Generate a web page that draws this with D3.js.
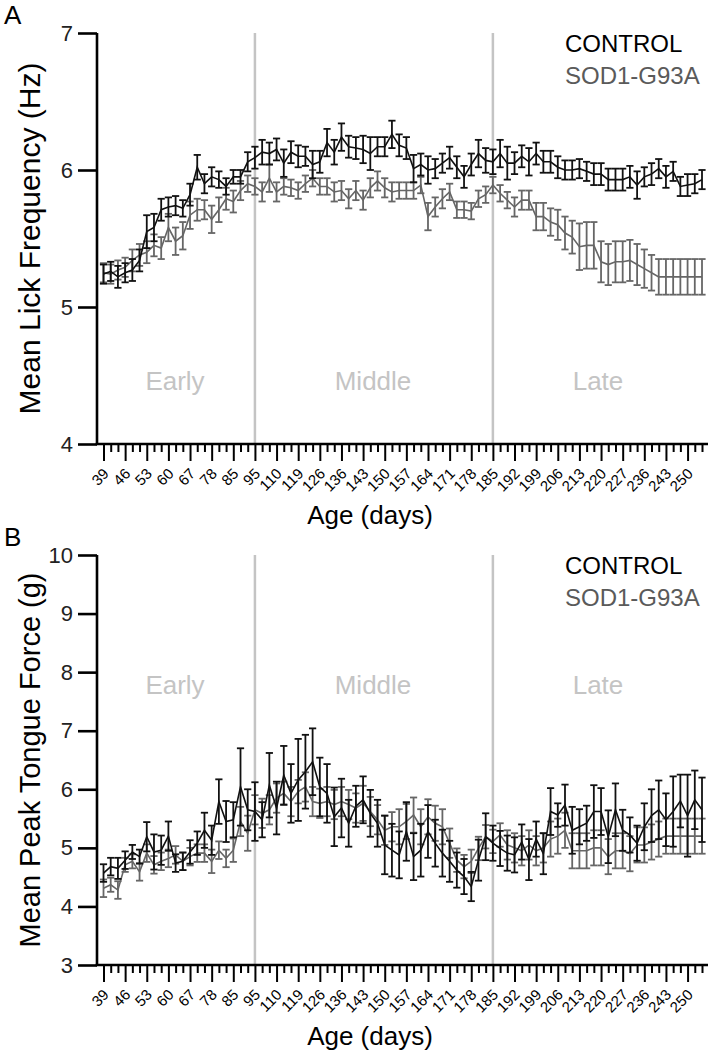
<!DOCTYPE html>
<html><head><meta charset="utf-8">
<script src="https://cdn.jsdelivr.net/npm/d3@7"></script>
<style>
body{margin:0;background:#fff;}
svg text{font-family:"Liberation Sans",Arial,sans-serif;}
</style></head>
<body><svg id="c" width="713" height="1050"></svg>
<script>
const ageLabels = ["39","46","53","60","67","78","85","95","110","119","126","136","143","150","157","164","171","178","185","192","199","206","213","220","227","236","243","250"];
const phaseLabels = ["Early","Middle","Late"];
const phaseBoundaryIdx = [21, 54];
const seriesNames = ["CONTROL","SOD1-G93A"];

const ctrlA = [5.24,5.26,5.22,5.25,5.27,5.34,5.55,5.58,5.71,5.73,5.74,5.72,5.82,6.02,5.90,5.95,5.93,5.88,5.95,5.95,6.06,6.09,6.13,6.12,6.15,6.05,6.13,6.10,6.10,6.04,6.06,6.20,6.13,6.24,6.17,6.16,6.15,6.12,6.17,6.17,6.26,6.18,6.16,
6.01,6.04,6.00,6.01,6.05,6.09,6.02,5.95,6.04,6.12,6.07,6.06,6.12,6.05,6.05,6.10,6.06,6.12,6.06,6.06,6.02,6.00,6.00,6.01,5.99,5.97,5.97,5.93,5.93,5.93,5.95,5.89,5.95,5.97,6.01,5.95,5.99,5.88,5.89,5.90,5.93];
const ctrlAErr = [.07,.07,.08,.07,.08,.08,.12,.1,.08,.07, .07,.06,.08,.09,.07,.07,.06,.06,.05,.05, .07,.08,.09,.08,.08,.1,.08,.08,.07,.1, .08,.1,.09,.1,.08,.08,.1,.12,.07,.07, .1,.08,.08,.1,.08,.1,.07,.07,.08,.08, .08,.08,.1,.09,.09,.1,.12,.08,.08,.1, .08,.08,.08,.08,.07,.07,.07,.07,.08,.08, .08,.08,.08,.08,.1,.07,.08,.07,.08,.07, .07,.08,.07,.07];
const sodA = [5.25,5.24,5.27,5.29,5.34,5.38,5.40,5.45,5.43,5.58,5.48,5.52,5.67,5.71,5.71,5.64,5.71,5.79,5.77,5.85,5.90,5.88,5.84,5.94,5.84,5.88,5.87,5.85,5.90,5.94,5.88,5.88,5.84,5.85,5.79,5.85,5.78,5.87,5.92,5.87,5.84,5.85,5.85,
5.85,5.89,5.66,5.73,5.79,5.84,5.71,5.71,5.70,5.79,5.82,5.89,5.83,5.78,5.73,5.78,5.78,5.66,5.66,5.62,5.60,5.54,5.51,5.44,5.45,5.45,5.33,5.31,5.33,5.33,5.34,5.31,5.28,5.25,5.22,5.22,5.22,5.22,5.22,5.22,5.22];
const sodAErr = [.07,.07,.07,.07,.08,.08,.08,.08,.08,.1, .1,.1,.1,.08,.07,.1,.09,.08,.08,.07, .06,.06,.07,.1,.07,.06,.06,.06,.06,.06, .06,.06,.07,.07,.07,.07,.07,.07,.07,.07, .07,.06,.06,.06,.06,.1,.07,.07,.06,.06, .06,.06,.06,.06,.06,.06,.06,.07,.07,.07, .1,.1,.1,.11,.12,.12,.17,.17,.17,.15, .15,.15,.15,.15,.15,.14,.13,.13,.13,.13, .13,.13,.13,.13];

const ctrlB = [4.57,4.68,4.65,4.79,4.93,4.85,5.19,4.93,4.96,5.20,4.74,4.77,4.93,5.08,5.30,5.13,5.79,5.45,5.48,6.04,5.65,5.62,5.48,6.07,5.68,6.24,5.93,6.16,6.30,6.47,6.04,5.93,5.53,5.68,5.42,5.71,5.82,5.59,5.42,5.05,4.96,4.88,5.28,4.85,4.96,5.28,5.08,4.91,4.77,4.62,4.51,4.34,4.79,5.19,5.08,4.99,
4.91,4.88,5.10,4.80,5.15,4.90,5.62,5.56,5.73,5.30,5.36,5.42,5.62,5.62,5.19,5.65,5.30,5.22,5.08,5.36,5.55,5.65,5.48,5.62,5.80,5.55,5.82,5.65];
const ctrlBErr = [.15,.15,.18,.15,.12,.12,.25,.3,.25,.25, .15,.15,.2,.2,.3,.25,.38,.35,.3,.66, .35,.5,.3,.55,.45,.5,.5,.7,.63,.57, .5,.5,.5,.5,.4,.35,.4,.4,.4,.5, .45,.4,.5,.4,.45,.45,.4,.4,.35,.3, .3,.25,.35,.4,.3,.3,.3,.3,.3,.35, .3,.35,.4,.2,.35,.4,.3,.3,.45,.4, .45,.45,.35,.3,.3,.4,.45,.5,.45,.6, .45,.7,.5,.55];
const sodB = [4.31,4.37,4.28,4.71,4.77,4.59,4.91,4.71,4.77,4.82,4.88,4.77,4.85,4.91,4.91,4.77,4.96,4.82,4.96,5.45,5.25,5.65,5.59,5.65,5.85,5.93,5.79,5.96,6.04,5.79,5.76,5.79,5.74,5.79,5.74,5.68,5.76,5.62,5.48,5.30,5.36,5.36,5.45,5.56,5.36,5.53,5.42,5.36,5.08,4.79,4.68,4.77,4.99,5.19,5.11,5.22,
5.05,5.0,4.95,5.05,4.95,5.0,5.15,5.2,5.3,4.95,4.95,4.95,5.0,5.0,4.85,4.95,4.95,4.9,5.05,5.05,5.1,5.15,5.2,5.2,5.2,5.2,5.2,5.2];
const sodBErr = [.15,.12,.15,.12,.12,.15,.15,.15,.15,.15, .15,.15,.15,.15,.15,.2,.15,.15,.2,.25, .3,.25,.25,.25,.25,.2,.25,.2,.25,.25, .25,.25,.25,.25,.25,.25,.3,.25,.25,.25, .25,.3,.3,.3,.3,.3,.3,.3,.25,.2, .2,.2,.2,.2,.2,.2,.25,.25,.25,.25, .25,.25,.3,.3,.3,.3,.3,.3,.3,.3, .3,.3,.3,.3,.3,.3,.3,.3,.3,.3, .3,.3,.3,.3];

const svg = d3.select("#c");
const N = ctrlA.length;
const x = d3.scaleLinear().domain([0, N-1]).range([103.5, 702]);
const axisLeftX = 97, axisRightX = 708;
const FONT = "Liberation Sans, Arial, sans-serif";

function panel(o){
  const g = svg.append("g");
  const y = d3.scaleLinear().domain(o.domain).range([o.bottom, o.top]);
  phaseBoundaryIdx.forEach(i=>{
    g.append("line").attr("x1",x(i)).attr("x2",x(i)).attr("y1",o.top).attr("y2",o.bottom)
      .attr("stroke","#c4c4c4").attr("stroke-width",2.5);
  });
  const centers = [175, 373, 598];
  phaseLabels.forEach((t,k)=>{
    g.append("text").attr("x",centers[k]).attr("y",o.phaseY).attr("text-anchor","middle")
      .attr("font-size",26).attr("fill","#c4c4c4").text(t);
  });
  const series = [{v:o.sod,e:o.sodErr,c:"#666666"},{v:o.ctrl,e:o.ctrlErr,c:"#111111"}];
  series.forEach(s=>{
    const sg = g.append("g");
    s.v.forEach((v,i)=>{
      const e = s.e[i];
      sg.append("line").attr("x1",x(i)).attr("x2",x(i)).attr("y1",y(v-e)).attr("y2",y(v+e))
        .attr("stroke",s.c).attr("stroke-width",1.8);
      [v-e, v+e].forEach(w=>{
        sg.append("line").attr("x1",x(i)-3.6).attr("x2",x(i)+3.6).attr("y1",y(w)).attr("y2",y(w))
          .attr("stroke",s.c).attr("stroke-width",1.8);
      });
    });
    sg.append("path").datum(s.v).attr("fill","none").attr("stroke",s.c).attr("stroke-width",1.6)
      .attr("d", d3.line().x((d,i)=>x(i)).y(d=>y(d)));
  });
  const ya = g.append("g").attr("transform",`translate(${axisLeftX},0)`)
    .call(d3.axisLeft(y).tickValues(d3.range(o.domain[0], o.domain[1]+1)).tickSize(19).tickPadding(5).tickFormat(d3.format("d")));
  ya.select(".domain").attr("stroke","#000").attr("stroke-width",2.6).attr("d",`M0,${o.top}V${o.bottom}`);
  ya.selectAll(".tick line").attr("stroke","#000").attr("stroke-width",2.6);
  ya.selectAll(".tick text").attr("font-size",22).attr("fill","#222").style("font-family",FONT);
  const xa = g.append("g").attr("transform",`translate(0,${o.bottom})`)
    .call(d3.axisBottom(x).tickValues(d3.range(N)).tickSize(8).tickFormat(""));
  xa.select(".domain").attr("stroke","#000").attr("stroke-width",2.6).attr("d",`M${axisLeftX-1.3},0H${axisRightX}`);
  xa.selectAll(".tick line").attr("stroke","#000").attr("stroke-width",2)
    .attr("y2", d=> d%3===0 ? 17 : 8);
  xa.selectAll(".tick").filter(d=>d%3===0).append("text")
    .attr("transform","translate(2,27) rotate(-45)")
    .attr("text-anchor","end").attr("dy","0.35em").attr("fill","#000")
    .attr("font-size",15).style("font-family",FONT)
    .text(d=>ageLabels[d/3]);
  g.append("text").attr("x",370).attr("y",o.bottom+80).attr("text-anchor","middle").attr("font-size",26).text("Age (days)");
  g.append("text").attr("transform",`translate(40,${(o.top+o.bottom)/2}) rotate(-90)`).attr("text-anchor","middle")
    .attr("font-size",o.ytitleSize).text(o.ytitle);
  g.append("text").attr("x",565).attr("y",o.top+19).attr("font-size",24).attr("fill","#000").text(seriesNames[0]);
  g.append("text").attr("x",565).attr("y",o.top+51).attr("font-size",24).attr("fill","#5a5a5a").text(seriesNames[1]);
  g.append("text").attr("x",4).attr("y",o.top-9).attr("font-size",26).text(o.letter);
}

panel({top:33,bottom:444,domain:[4,7],ctrl:ctrlA,ctrlErr:ctrlAErr,sod:sodA,sodErr:sodAErr,
  phaseY:390,ytitle:"Mean Lick Frequency (Hz)",ytitleSize:30,letter:"A"});
panel({top:555,bottom:965,domain:[3,10],ctrl:ctrlB,ctrlErr:ctrlBErr,sod:sodB,sodErr:sodBErr,
  phaseY:694,ytitle:"Mean Peak Tongue Force (g)",ytitleSize:29,letter:"B"});
</script></body></html>
